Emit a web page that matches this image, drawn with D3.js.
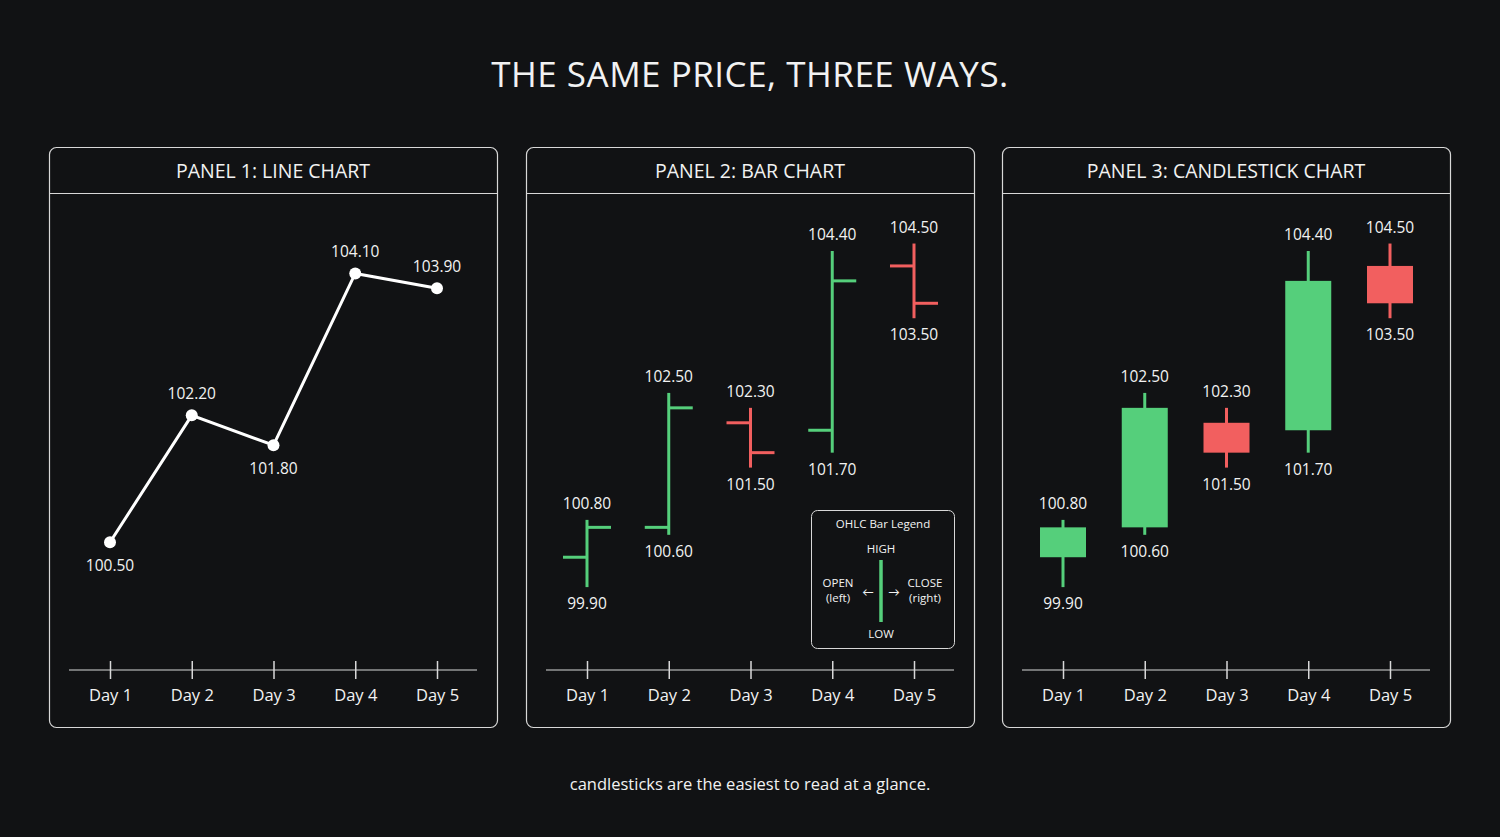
<!DOCTYPE html>
<html><head><meta charset="utf-8">
<script src="https://cdn.jsdelivr.net/npm/d3@7"></script>
<style>body{margin:0;background:#111214;}svg{display:block;font-family:"Open Sans",Lato,sans-serif;}</style>
</head><body><svg id="c" width="1500" height="837"></svg>
<script>
const days = ["Day 1","Day 2","Day 3","Day 4","Day 5"];
const closes = [100.5, 102.2, 101.8, 104.1, 103.9];
const lineLabelPos = ["below","above","below","above","above"];
const opens = [100.3, 100.7, 102.1, 102.0, 104.2];
const closesOHLC = [100.7, 102.3, 101.7, 104.0, 103.7];
const highs = [100.8, 102.5, 102.3, 104.4, 104.5];
const lows = [99.9, 100.6, 101.5, 101.7, 103.5];
const panelTitles = ["PANEL 1: LINE CHART","PANEL 2: BAR CHART","PANEL 3: CANDLESTICK CHART"];

const GREEN="#55cf7b", RED="#f25f5f", FG="#f2f2f2";
const svg=d3.select("#c");
svg.append("rect").attr("width",1500).attr("height",837).attr("fill","#111214");
svg.append("text").attr("x",750).attr("y",87).attr("text-anchor","middle").attr("fill",FG)
  .attr("font-size",35).attr("letter-spacing",0.5).text("THE SAME PRICE, THREE WAYS.");
svg.append("text").attr("x",750).attr("y",790).attr("text-anchor","middle").attr("fill",FG)
  .attr("font-size",16.5).text("candlesticks are the easiest to read at a glance.");

const panelX=[49,526,1002], PW=448, PT=147, PH=580;
const y=d3.scaleLinear().domain([98.75,104.4]).range([673,251]);
const fmt=d3.format(".2f");

panelX.forEach((px,pi)=>{
  const g=svg.append("g").attr("transform",`translate(${px},0)`);
  g.append("rect").attr("x",0.5).attr("y",PT+0.5).attr("width",PW).attr("height",PH).attr("rx",7)
    .attr("fill","none").attr("stroke","#d8d8d8").attr("stroke-width",1.2);
  g.append("line").attr("x1",0).attr("x2",PW).attr("y1",193.5).attr("y2",193.5).attr("stroke","#d8d8d8").attr("stroke-width",1.2);
  g.append("text").attr("x",PW/2).attr("y",178).attr("text-anchor","middle").attr("fill",FG).attr("font-size",19.5).text(panelTitles[pi]);
  const x=d3.scalePoint().domain(days).range([61,388]);
  const ax=g.append("g").attr("transform","translate(0,670)").call(d3.axisBottom(x).tickSize(0).tickPadding(19));
  ax.select(".domain").remove();
  ax.insert("line",":first-child").attr("x1",20).attr("x2",428).attr("stroke","#d8d8d8").attr("stroke-width",1.2);
  ax.selectAll(".tick line").remove();
  ax.selectAll(".tick").append("line").attr("y1",-9).attr("y2",9).attr("stroke","#d8d8d8").attr("stroke-width",1.5);
  ax.selectAll(".tick text").attr("fill",FG).attr("font-size",16.5).attr("font-family","'Open Sans',Lato,sans-serif");

  if(pi===0){
    const line=d3.line().x((d,i)=>x(days[i])).y(d=>y(d));
    g.append("path").attr("d",line(closes)).attr("fill","none").attr("stroke","#fff").attr("stroke-width",3);
    closes.forEach((c,i)=>{
      g.append("circle").attr("cx",x(days[i])).attr("cy",y(c)).attr("r",6).attr("fill","#fff");
      g.append("text").attr("x",x(days[i])).attr("y",lineLabelPos[i]==="above"?y(c)-16:y(c)+29)
        .attr("text-anchor","middle").attr("fill",FG).attr("font-size",15.5).text(fmt(c));
    });
  } else {
    days.forEach((d,i)=>{
      const cx=x(d), col=closesOHLC[i]>=opens[i]?GREEN:RED;
      g.append("line").attr("x1",cx).attr("x2",cx).attr("y1",y(highs[i])).attr("y2",y(lows[i])).attr("stroke",col).attr("stroke-width",3);
      if(pi===1){
        g.append("line").attr("x1",cx-24).attr("x2",cx).attr("y1",y(opens[i])).attr("y2",y(opens[i])).attr("stroke",col).attr("stroke-width",3);
        g.append("line").attr("x1",cx).attr("x2",cx+24).attr("y1",y(closesOHLC[i])).attr("y2",y(closesOHLC[i])).attr("stroke",col).attr("stroke-width",3);
      } else {
        const t=y(Math.max(opens[i],closesOHLC[i])), b=y(Math.min(opens[i],closesOHLC[i]));
        g.append("rect").attr("x",cx-23).attr("y",t).attr("width",46).attr("height",b-t).attr("fill",col);
      }
      g.append("text").attr("x",cx).attr("y",y(highs[i])-11).attr("text-anchor","middle").attr("fill",FG).attr("font-size",15.5).text(fmt(highs[i]));
      g.append("text").attr("x",cx).attr("y",y(lows[i])+22).attr("text-anchor","middle").attr("fill",FG).attr("font-size",15.5).text(fmt(lows[i]));
    });
    if(pi===1){
      const lg=g.append("g").attr("transform","translate(285,510)");
      lg.append("rect").attr("x",0.5).attr("y",0.5).attr("width",143).attr("height",138).attr("rx",6).attr("fill","#111214").attr("stroke","#d8d8d8");
      const t=(tx,ty,s,a="middle")=>lg.append("text").attr("x",tx).attr("y",ty).attr("text-anchor",a).attr("fill",FG).attr("font-size",11.5).text(s);
      t(72,18,"OHLC Bar Legend"); t(70,43,"HIGH"); t(70,128,"LOW");
      t(27,77,"OPEN"); t(27,92,"(left)"); t(114,77,"CLOSE"); t(114,92,"(right)");
      lg.append("line").attr("x1",70).attr("x2",70).attr("y1",50).attr("y2",112).attr("stroke",GREEN).attr("stroke-width",3.5);
      t(57,86,"←"); t(83,86,"→");
    }
  }
});
</script></body></html>
